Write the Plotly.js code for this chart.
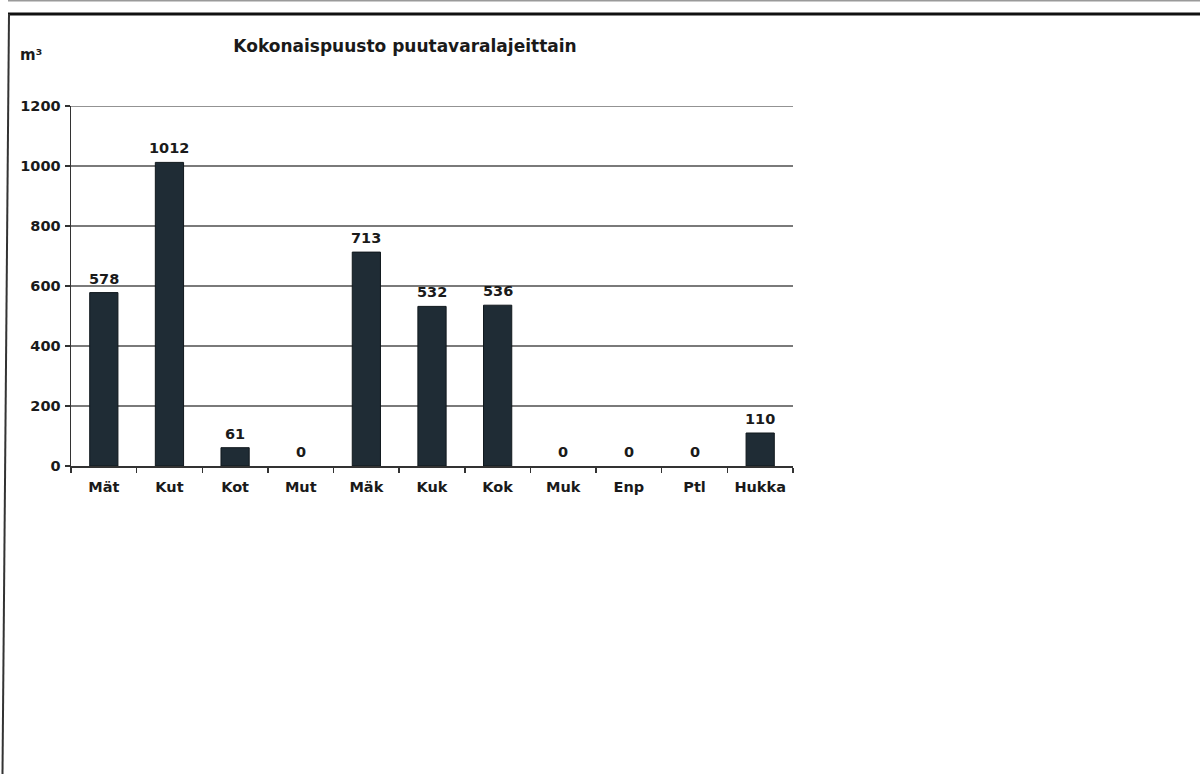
<!DOCTYPE html>
<html>
<head>
<meta charset="utf-8">
<script src="https://cdn.plot.ly/plotly-3.0.1.min.js"></script>
<style>html,body{margin:0;padding:0;background:#fff;}#chart{width:1200px;height:774px;}</style>
</head>
<body>
<div id="chart"></div>
<script>
const categories = ["Mät","Kut","Kot","Mut","Mäk","Kuk","Kok","Muk","Enp","Ptl","Hukka"];
const values = [578, 1012, 61, 0, 713, 532, 536, 0, 0, 0, 110];
const yTicks = [0, 200, 400, 600, 800, 1000, 1200];

const W = 1200, H = 774;
const L = 71, R = 793, T = 106, B = 466;
const px = x => (x - L) / (R - L);
const py = y => (B - y) / (B - T);
const FONT = "DejaVu Sans, Verdana, sans-serif";

const trace = {
  type: "bar",
  x: categories,
  y: values,
  marker: {color: "#1f2c35", line: {color: "#10181d", width: values.map(v => v > 0 ? 1 : 0)}},
  width: 0.43,
  hoverinfo: "skip"
};

const annotations = categories.map((c, i) => ({
  x: c, y: values[i], xref: "x", yref: "y",
  text: "<b>" + values[i] + "</b>",
  showarrow: false, yanchor: "bottom", yshift: 4,
  font: {family: FONT, size: 14.5, color: "#1a1a1a"}
}));
annotations.push({
  xref: "paper", yref: "paper", x: px(18), y: py(55), xanchor: "left", yanchor: "middle",
  text: "<b>m³</b>", showarrow: false,
  font: {family: FONT, size: 15, color: "#1a1a1a"}
});

const shapes = [
  {type: "line", xref: "paper", yref: "paper", x0: px(8), x1: px(1200), y0: py(0.8), y1: py(0.8), line: {color: "#9a9a9a", width: 1.5}},
  {type: "line", xref: "paper", yref: "paper", x0: px(8), x1: px(1200), y0: py(14), y1: py(14), line: {color: "#111", width: 3}},
  {type: "line", xref: "paper", yref: "paper", x0: px(9), x1: px(2.5), y0: py(14), y1: py(774), line: {color: "#333", width: 2}},
  {type: "line", xref: "paper", yref: "y", x0: 0, x1: 1, y0: yTicks[yTicks.length - 1], y1: yTicks[yTicks.length - 1], line: {color: "#6f6f6f", width: 1.6}, layer: "below"}
];

const layout = {
  width: W, height: H,
  margin: {l: L, r: W - R, t: T, b: H - B, pad: 0},
  paper_bgcolor: "#fff", plot_bgcolor: "#fff",
  showlegend: false,
  title: {
    text: "<b>Kokonaispuusto puutavaralajeittain</b>",
    xref: "container", yref: "container", x: 405 / W, y: 1 - 46 / H,
    xanchor: "center", yanchor: "middle",
    font: {family: FONT, size: 17, color: "#1a1a1a"}
  },
  xaxis: {
    type: "category", tickson: "boundaries",
    showline: true, linecolor: "#333", linewidth: 1.5,
    ticks: "outside", ticklen: 5, tickcolor: "#333", tickwidth: 1.5,
    showgrid: false, zeroline: false,
    tickfont: {family: FONT, size: 14.5, color: "#1a1a1a"},
    ticktext: categories.map(c => "<b>" + c + "</b>"), tickvals: categories,
    ticklabelstandoff: 7,
    fixedrange: true
  },
  yaxis: {
    range: [0, 1200], tickvals: yTicks, ticktext: yTicks.map(v => "<b>" + v + "</b>"),
    showline: true, linecolor: "#333", linewidth: 1.5,
    ticks: "outside", ticklen: 5, tickcolor: "#333", tickwidth: 1.5,
    showgrid: true, gridcolor: "#7a7a7a", gridwidth: 1.5,
    zeroline: false,
    tickfont: {family: FONT, size: 14.5, color: "#1a1a1a"},
    ticklabelstandoff: 1,
    fixedrange: true
  },
  annotations: annotations,
  shapes: shapes
};

Plotly.newPlot("chart", [trace], layout, {displayModeBar: false, staticPlot: true});
</script>
</body>
</html>
